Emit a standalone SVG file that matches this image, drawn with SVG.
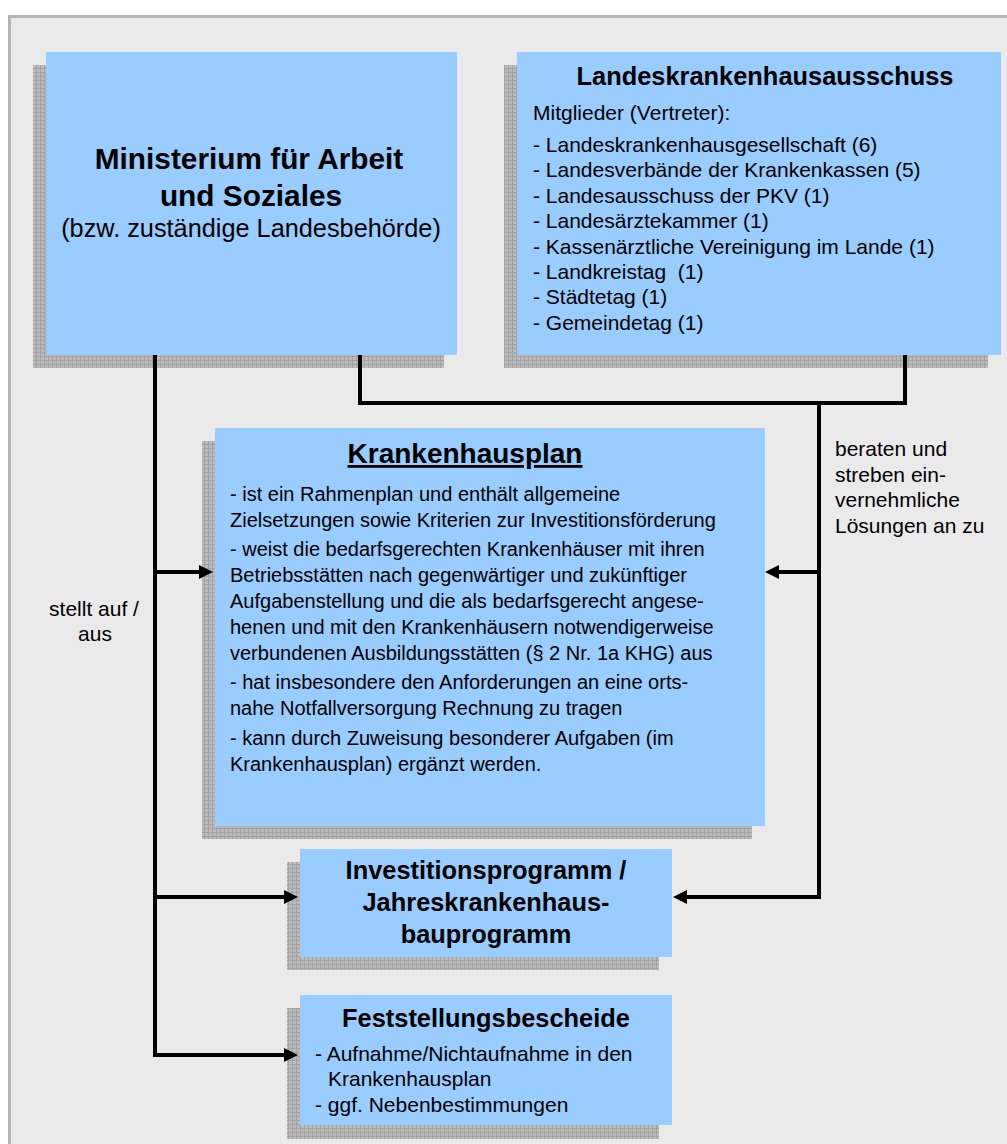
<svg xmlns="http://www.w3.org/2000/svg" width="1007" height="1144" viewBox="0 0 1007 1144">
<defs>
<pattern id="hatch" width="4" height="4" patternUnits="userSpaceOnUse">
<rect width="4" height="4" fill="#bbbbbb"/>
<path d="M0,0.5 H4 M0.5,0 V4" stroke="#a2a2a2" stroke-width="1"/>
</pattern>
<marker id="arr" viewBox="0 0 14 14" refX="6" refY="7" markerWidth="14" markerHeight="14" markerUnits="userSpaceOnUse" orient="auto">
<path d="M0,0 L14,7 L0,14 z" fill="#000"/>
</marker>
<style>
.bg{fill:#eaeaea;stroke:#b4b4b4;stroke-width:3}
.sh{fill:url(#hatch)}
.bx{fill:#99ccff}
text{font-family:"Liberation Sans",Arial,sans-serif;fill:#000}
.b{font-weight:bold}
.c{text-anchor:middle}
.ln{fill:none;stroke:#000;stroke-width:4}
</style>
</defs>
<rect class="bg" x="9.5" y="16.5" width="1100" height="1200"/>

<g id="ministerium">
<rect class="sh" x="33" y="65" width="411" height="303"/>
<rect class="bx" x="46" y="52" width="411" height="303"/>
<text class="b c" x="249" y="169" font-size="29.8">Ministerium für Arbeit</text>
<text class="b c" x="251" y="206" font-size="29.8">und Soziales</text>
<text class="c" x="251" y="237" font-size="25.3">(bzw. zuständige Landesbehörde)</text>
</g>

<g id="landesausschuss">
<rect class="sh" x="504" y="65" width="484" height="303"/>
<rect class="bx" x="517" y="52" width="484" height="303"/>
<text class="b c" x="765" y="85" font-size="25.4">Landeskrankenhausausschuss</text>
<g font-size="21">
<text x="533" y="120">Mitglieder (Vertreter):</text>
<text x="533" y="152">- Landeskrankenhausgesellschaft (6)</text>
<text x="533" y="177.4">- Landesverbände der Krankenkassen (5)</text>
<text x="533" y="202.8">- Landesausschuss der PKV (1)</text>
<text x="533" y="228.2">- Landesärztekammer (1)</text>
<text x="533" y="253.6">- Kassenärztliche Vereinigung im Lande (1)</text>
<text x="533" y="279" xml:space="preserve">- Landkreistag  (1)</text>
<text x="533" y="304.4">- Städtetag (1)</text>
<text x="533" y="329.8">- Gemeindetag (1)</text>
</g>
</g>

<g id="krankenhausplan">
<rect class="sh" x="202" y="441" width="550" height="398"/>
<rect class="bx" x="215" y="428" width="550" height="398"/>
<text class="b c" x="465" y="463" font-size="28" text-decoration="underline">Krankenhausplan</text>
<g font-size="20">
<text x="230" y="501">- ist ein Rahmenplan und enthält allgemeine</text>
<text x="230" y="527">Zielsetzungen sowie Kriterien zur Investitionsförderung</text>
<text x="230" y="556">- weist die bedarfsgerechten Krankenhäuser mit ihren</text>
<text x="230" y="582">Betriebsstätten nach gegenwärtiger und zukünftiger</text>
<text x="230" y="608">Aufgabenstellung und die als bedarfsgerecht angese-</text>
<text x="230" y="634">henen und mit den Krankenhäusern notwendigerweise</text>
<text x="230" y="660">verbundenen Ausbildungsstätten (§ 2 Nr. 1a KHG) aus</text>
<text x="230" y="689">- hat insbesondere den Anforderungen an eine orts-</text>
<text x="230" y="715">nahe Notfallversorgung Rechnung zu tragen</text>
<text x="230" y="745">- kann durch Zuweisung besonderer Aufgaben (im</text>
<text x="230" y="771">Krankenhausplan) ergänzt werden.</text>
</g>
</g>

<g id="investitionsprogramm">
<rect class="sh" x="287" y="862" width="372" height="108"/>
<rect class="bx" x="300" y="849" width="372" height="108"/>
<text class="b c" x="486" y="879" font-size="25.4">Investitionsprogramm /</text>
<text class="b c" x="486" y="911" font-size="25.4">Jahreskrankenhaus-</text>
<text class="b c" x="486" y="943" font-size="25.4">bauprogramm</text>
</g>

<g id="feststellungsbescheide">
<rect class="sh" x="287" y="1008" width="372" height="131"/>
<rect class="bx" x="300" y="995" width="372" height="130"/>
<text class="b c" x="486" y="1027" font-size="25.4">Feststellungsbescheide</text>
<g font-size="21">
<text x="315" y="1061">- Aufnahme/Nichtaufnahme in den</text>
<text x="328" y="1086">Krankenhausplan</text>
<text x="315" y="1112">- ggf. Nebenbestimmungen</text>
</g>
</g>

<g id="connectors">
<path class="ln" d="M155,355 V1057"/>
<path class="ln" d="M360,355 V403 H905 V355"/>
<path class="ln" d="M819,401 V899"/>
<path class="ln" d="M153,572 H205" marker-end="url(#arr)"/>
<path class="ln" d="M153,897 H290" marker-end="url(#arr)"/>
<path class="ln" d="M153,1055 H290" marker-end="url(#arr)"/>
<path class="ln" d="M821,572 H773" marker-end="url(#arr)"/>
<path class="ln" d="M821,897 H681" marker-end="url(#arr)"/>
</g>

<g id="labels" font-size="21">
<text class="c" x="94" y="616">stellt auf /</text>
<text class="c" x="95" y="641">aus</text>
<text x="835" y="456">beraten und</text>
<text x="835" y="481.5">streben ein-</text>
<text x="835" y="507">vernehmliche</text>
<text x="835" y="533">Lösungen an zu</text>
</g>
</svg>
